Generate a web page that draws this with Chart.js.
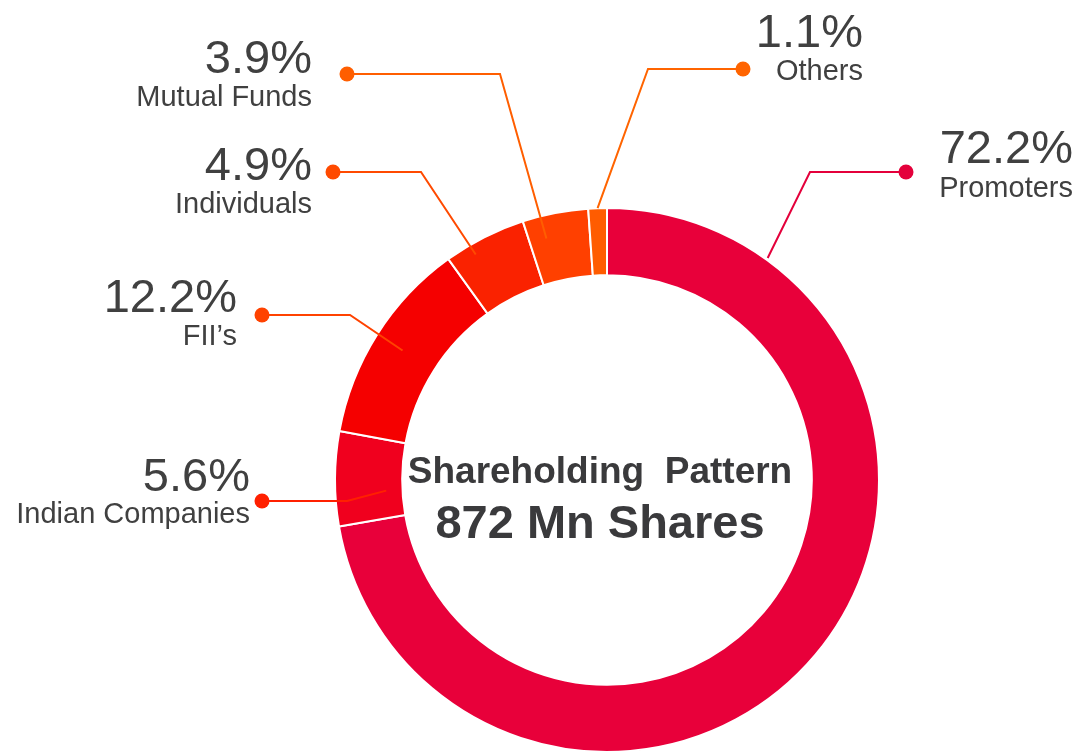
<!DOCTYPE html>
<html>
<head>
<meta charset="utf-8">
<script src="https://cdn.jsdelivr.net/npm/chart.js@4/dist/chart.umd.min.js"></script>
<style>
  html, body { margin: 0; padding: 0; background: #fff; }
  #holdingChart { display: block; }
</style>
</head>
<body>
<canvas id="holdingChart" width="1089" height="756"></canvas>
<script>
// ==========================================
// =       SHAREHOLDING DATA               =
// ==========================================
const categories = [
  "Promoters",
  "Indian Companies",
  "FII\u2019s",
  "Individuals",
  "Mutual Funds",
  "Others",
];
const shareValues = [72.2, 5.6, 12.2, 4.9, 3.9, 1.1];
const sliceColors = ["#E8003A", "#F0001E", "#F50000", "#FA2200", "#FF4000", "#FF5C00"];
const calloutColors = ["#E4003B", "#FF2000", "#FF4200", "#FF4A00", "#FF5E00", "#FF6400"];
const centerTitle = "Shareholding  Pattern";
const centerSubtitle = "872 Mn Shares";

// callout placement (dot, elbow, text anchor, where the line touches the ring)
const calloutLayout = [
  { dot: [906, 172], elbowX: 810, textX: 1073, pctY: 163, labelY: 197, frac: 0.138, r: 274 },
  { dot: [262, 501], elbowX: 347, textX: 250, pctY: 491, labelY: 523, frac: 0.35, r: 221 },
  { dot: [262, 315], elbowX: 350, textX: 237, pctY: 312, labelY: 345, frac: 0.5, r: 242 },
  { dot: [333, 172], elbowX: 421, textX: 312, pctY: 180, labelY: 213, frac: 0.31, r: 261 },
  { dot: [347, 74], elbowX: 500, textX: 312, pctY: 73, labelY: 106, frac: 0.28, r: 249 },
  { dot: [743, 69], elbowX: 648, textX: 863, pctY: 47, labelY: 80, frac: 0.5, r: 272 },
];

const FONT = '"Liberation Sans", Arial, Helvetica, sans-serif';
const TEXT_COLOR = "#404040";

// ==========================================
// =       CALLOUTS + CENTER TEXT PLUGIN    =
// ==========================================
const calloutPlugin = {
  id: "callouts",
  afterDraw(chart) {
    const ctx = chart.ctx;
    const arcs = chart.getDatasetMeta(0).data;
    ctx.save();

    arcs.forEach((arc, i) => {
      const lay = calloutLayout[i];
      const ang = arc.startAngle + (arc.endAngle - arc.startAngle) * lay.frac;
      const ex = arc.x + Math.cos(ang) * lay.r;
      const ey = arc.y + Math.sin(ang) * lay.r;

      ctx.strokeStyle = calloutColors[i];
      ctx.lineWidth = 2;
      ctx.beginPath();
      ctx.moveTo(ex, ey);
      ctx.lineTo(lay.elbowX, lay.dot[1]);
      ctx.lineTo(lay.dot[0], lay.dot[1]);
      ctx.stroke();

      ctx.fillStyle = calloutColors[i];
      ctx.beginPath();
      ctx.arc(lay.dot[0], lay.dot[1], 7.5, 0, Math.PI * 2);
      ctx.fill();

      ctx.fillStyle = TEXT_COLOR;
      ctx.textAlign = "right";
      ctx.textBaseline = "alphabetic";
      ctx.font = "47px " + FONT;
      ctx.fillText(shareValues[i].toFixed(1) + "%", lay.textX, lay.pctY);
      ctx.font = "29px " + FONT;
      ctx.fillText(categories[i], lay.textX, lay.labelY);
    });

    // center text
    const cx = arcs[0].x - 7;
    ctx.fillStyle = "#3A3A3C";
    ctx.textAlign = "center";
    ctx.font = "bold 37px " + FONT;
    ctx.fillText(centerTitle, cx, 483);
    ctx.font = "bold 47px " + FONT;
    ctx.fillText(centerSubtitle, cx, 538);

    ctx.restore();
  },
};

// ==========================================
// =       DOUGHNUT CHART                   =
// ==========================================
const ctx = document.getElementById("holdingChart").getContext("2d");

new Chart(ctx, {
  type: "doughnut",
  data: {
    labels: categories,
    datasets: [
      {
        data: shareValues,
        backgroundColor: sliceColors,
        borderColor: "#ffffff",
        borderWidth: 2,
        hoverOffset: 0,
      },
    ],
  },
  options: {
    responsive: false,
    animation: false,
    cutout: "75.3%",
    layout: { padding: { left: 334, right: 209, top: 207, bottom: 3 } },
    plugins: {
      legend: { display: false },
      tooltip: { enabled: false },
    },
    events: [],
  },
  plugins: [calloutPlugin],
});
</script>
</body>
</html>
